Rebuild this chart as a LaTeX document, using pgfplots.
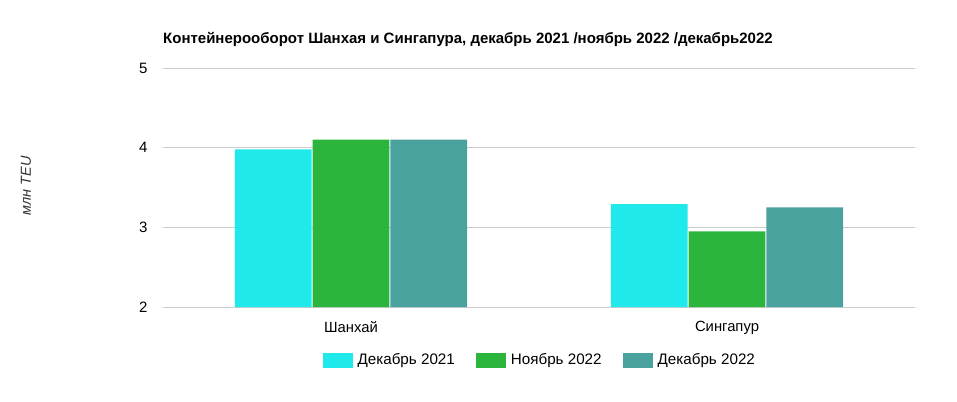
\documentclass[border=0pt]{standalone}
\usepackage{pgfplots}
\pgfplotsset{compat=1.18}
\usepackage{fontspec}
\setmainfont{Liberation Sans}
\definecolor{cDec21}{HTML}{1FE9EB}
\definecolor{cNov22}{HTML}{2BB53D}
\definecolor{cDec22}{HTML}{49A29E}
\definecolor{gridGrey}{HTML}{CCCCCC}
\begin{document}
\begin{tikzpicture}[x=1bp,y=1bp]
\path[use as bounding box] (0,0) rectangle (957,401);
% title and y label placed in page pixels (y measured from bottom)
\node[anchor=west, font=\fontsize{15bp}{17bp}\selectfont\bfseries, inner sep=0pt]
  at (163,362) {Контейнерооборот Шанхая и Сингапура, декабрь 2021 /ноябрь 2022 /декабрь2022};
\node[rotate=90, font=\fontsize{14.5bp}{16bp}\selectfont\itshape, text=black!80, inner sep=0pt]
  at (26,215) {млн TEU};
\begin{axis}[
    at={(163bp,94bp)}, anchor=south west,
    scale only axis,
    width=752bp, height=239bp,
    ymin=2, ymax=5,
    ytick={2,3,4,5},
    xmin=-0.5, xmax=1.5,
    xtick={0,1},
    xticklabels={Шанхай, Сингапур},
    axis line style={draw=none},
    major tick length=0pt,
    ymajorgrids,
    grid style={draw=gridGrey, line width=0.8pt},
    /pgf/number format/assume math mode=true,
    tick label style={font=\fontsize{15bp}{17bp}\selectfont},
    xticklabel style={font=\fontsize{14.8bp}{17bp}\selectfont, yshift=-11bp},
    yticklabel style={xshift=-12bp},
    ybar, bar width=0.204,
    legend style={
        at={(0.501,-0.222)}, anchor=center,
        draw=none, fill=none,
        font=\fontsize{15.2bp}{17bp}\selectfont,
        legend columns=3,
        /tikz/every odd column/.append style={column sep=3bp},
        /tikz/every even column/.append style={column sep=19bp},
    },
    legend image code/.code={
        \fill[#1] (0bp,-7.5bp) rectangle (30bp,7.5bp);
    },
]
\addplot[fill=cDec21, draw=none, bar shift=-0.207]
    coordinates {(0,3.98) (1,3.29)};
\addlegendentry{Декабрь 2021}
\addplot[fill=cNov22, draw=none, bar shift=0]
    coordinates {(0,4.10) (1,2.95)};
\addlegendentry{Ноябрь 2022}
\addplot[fill=cDec22, draw=none, bar shift=0.207]
    coordinates {(0,4.10) (1,3.25)};
\addlegendentry{Декабрь 2022}
\end{axis}
\end{tikzpicture}
\end{document}
